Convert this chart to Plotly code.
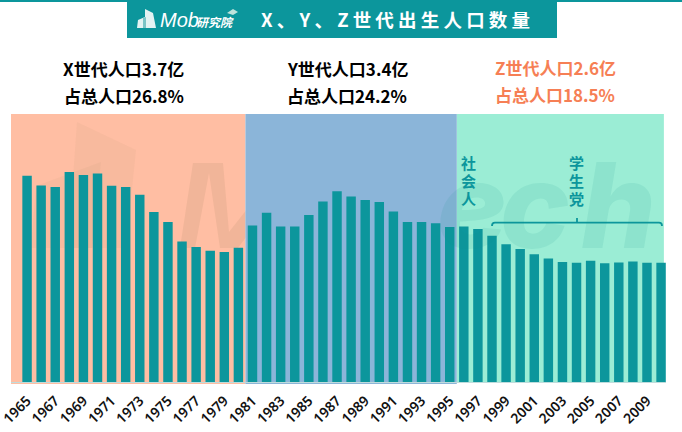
import plotly.graph_objects as go

years = list(range(1965, 2011))
births = [2680, 2555, 2535, 2730, 2690, 2710, 2550, 2535, 2435, 2210,
          2080, 1825, 1755, 1705, 1690, 1745, 2035, 2200, 2020, 2020,
          2170, 2345, 2480, 2410, 2365, 2340, 2215, 2080, 2080, 2065,
          2015, 2020, 1990, 1900, 1790, 1730, 1660, 1605, 1560, 1550,
          1575, 1545, 1555, 1565, 1550, 1550]
tick_years = list(range(1965, 2010, 2))
tick_labels = [str(y) for y in tick_years]
title_text = "X 、 Y 、 Z 世 代 出 生 人 口 数 量"
group_heads = [("X世代人口3.7亿", "占总人口26.8%", 124, "#000000"),
               ("Y世代人口3.4亿", "占总人口24.2%", 347, "#000000"),
               ("Z世代人口2.6亿", "占总人口18.5%", 555, "#F67F55")]
side_labels = [("社会人", 468), ("学生党", 576)]
watermark_letters = [("e", 472), ("c", 535), ("h", 618)]

W, H = 682, 432
L, R, T, B = 11, 666, 114, 382
TEAL = "#0C969C"
MARK = "rgba(120,110,70,0.10)"
MARK_SOFT = "rgba(120,110,70,0.05)"
MARK_Z = "rgba(20,150,140,0.10)"
CJK = "Noto Sans CJK SC"


def fx(p):
    return (p - L) / (R - L)


def fy(p):
    return (B - p) / (B - T)


def poly(points, fill):
    d = "M" + " L".join(f"{fx(x):.5f},{fy(y):.5f}" for x, y in points) + " Z"
    return dict(type="path", xref="paper", yref="paper", path=d, fillcolor=fill,
                line=dict(width=0), layer="below")


def rect(x0, x1, y0, y1, fill, xref="paper"):
    if xref == "paper":
        x0, x1 = fx(x0), fx(x1)
    return dict(type="rect", xref=xref, yref="paper", x0=x0, x1=x1, y0=fy(y0), y1=fy(y1),
                fillcolor=fill, line=dict(width=0), layer="below")


def text(s, x, y, size, color, weight="bold", family=CJK, style="normal", anchor="center"):
    return dict(text=s, xref="paper", yref="paper", x=fx(x), y=fy(y), xanchor=anchor, yanchor="middle",
                showarrow=False, align="center",
                font=dict(size=size, color=color, family=family, weight=weight, style=style))


fig = go.Figure(go.Bar(x=years, y=births, marker=dict(color=TEAL, line=dict(width=0)), width=0.67,
                       hoverinfo="skip"))

shapes = [
    rect(0, W, 0, 2, TEAL),
    rect(127, 557, 0, 38, TEAL),
    # bands: X and Z, then the watermark pieces, then Y on top
    rect(1963.86, 1980.5, T, 384, "#FFBEA3", xref="x"),
    rect(1995.5, 2010.2, T, 382, "#9BEDD5", xref="x"),
    poly([(77, 122), (136, 150), (126, 248), (68, 248)], MARK_SOFT),
    poly([(36, 186), (101, 162), (92, 248), (31, 248)], MARK_SOFT),
    poly([(193, 163), (223, 163), (229, 232), (262, 190), (262, 216), (238, 248), (220, 248),
          (209, 173), (195, 248), (180, 248)], MARK),
    rect(1980.5, 1995.5, T, 384, "#8BB5D9", xref="x"),
    # logo
    poly([(145, 9), (153, 13), (156, 28), (137, 28), (138, 20), (145, 17)], "#E4F3F3"),
    poly([(143, 18), (146, 17), (146, 28), (143, 28)], "#7CC4C6"),
    poly([(227, 13), (233, 9), (238, 12), (233, 15)], "#BFE3DC"),
    # bracket
    dict(type="path", xref="paper", yref="paper", layer="above",
         path=(f"M{fx(492):.5f},{fy(226):.5f} Q{fx(492):.5f},{fy(222.7):.5f} {fx(495):.5f},{fy(222.7):.5f} "
               f"L{fx(659):.5f},{fy(222.7):.5f} Q{fx(662):.5f},{fy(222.7):.5f} {fx(662):.5f},{fy(226):.5f} "
               f"M{fx(577):.5f},{fy(222.7):.5f} L{fx(577):.5f},{fy(218):.5f}"),
         line=dict(color=TEAL, width=1.8)),
]

annotations = [text(ch, cx, 205, 118, MARK_Z, family="Inter", weight=800, style="italic")
               for ch, cx in watermark_letters]
annotations += [
    text(title_text, 395, 19, 18.5, "#FFFFFF"),
    text("Mob", 158, 20, 20, "#FFFFFF", weight="normal", family="Liberation Sans", style="italic", anchor="left"),
    text("研究院", 194, 21, 12, "#FFFFFF", style="italic", anchor="left"),
]
for chars, cx in side_labels:
    for i, ch in enumerate(chars):
        annotations.append(text(ch, cx, 162 + 18 * i, 15, TEAL))
for line1, line2, cx, color in group_heads:
    dy = -3 if color != "#000000" else -1
    annotations.append(text(line1, cx, 70 + dy, 17, color))
    annotations.append(text(line2, cx, 97 + dy, 17, color))

fig.update_layout(
    width=W, height=H, margin=dict(l=L, r=W - R, t=T, b=H - B, autoexpand=False),
    paper_bgcolor="#FFFFFF", plot_bgcolor="rgba(0,0,0,0)",
    showlegend=False, bargap=0.33, shapes=shapes, annotations=annotations,
    xaxis=dict(range=[1963.86, 2010.35], tickmode="array", tickvals=tick_years, ticktext=tick_labels,
               tickangle=-45, ticks="", showgrid=False, zeroline=False, showline=True, automargin=False,
               ticklabeloverflow="allow", ticklabelstandoff=4, linecolor="#BFDCDC", linewidth=1,
               tickfont=dict(family="Noto Sans", size=14, color="#111111", weight=600)),
    yaxis=dict(range=[0, 3484], visible=False, automargin=False),
)
fig.write_html("out.html", config=dict(displayModeBar=False),
               post_script="document.body.style.margin='0';")
